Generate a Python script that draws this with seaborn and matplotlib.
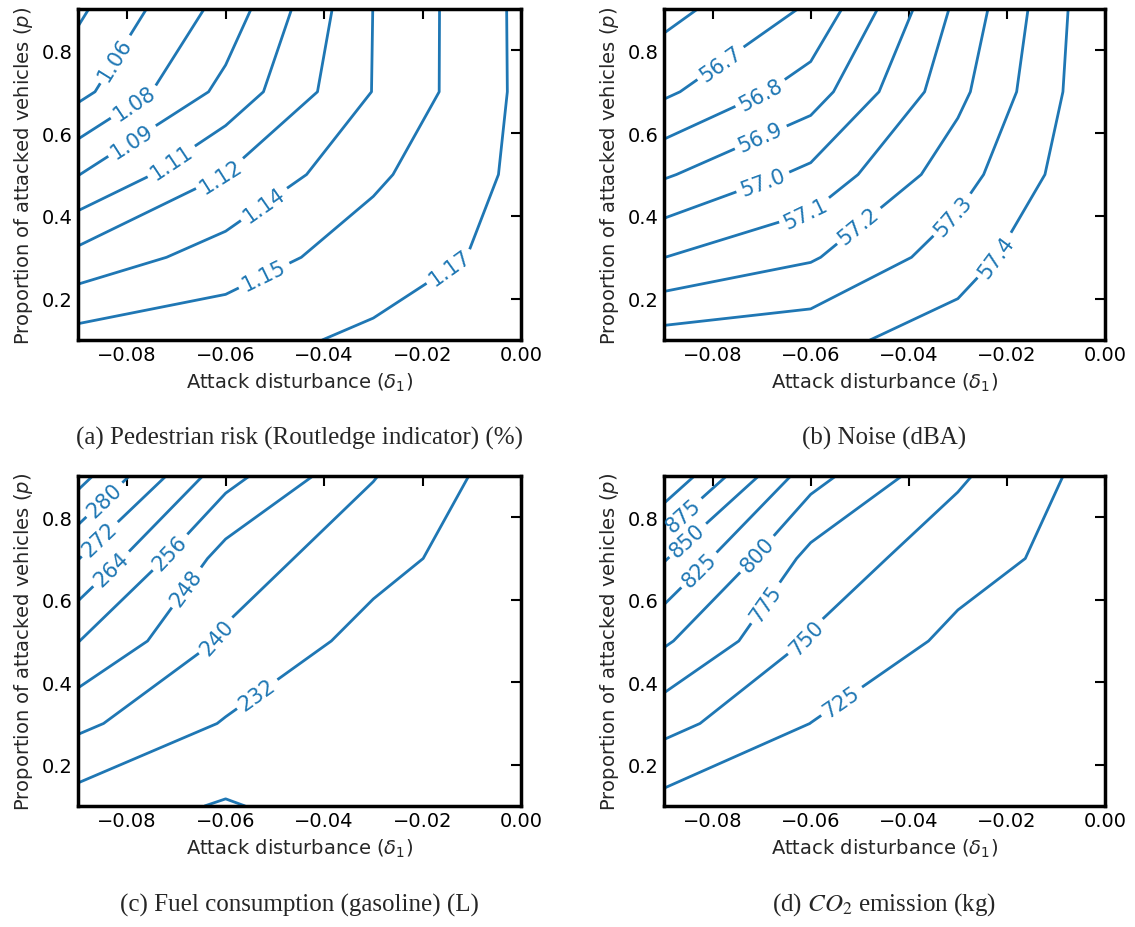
import matplotlib
matplotlib.use("Agg")
import matplotlib.pyplot as plt
import seaborn as sns

# Grid of the sweep: attack disturbance (columns) x proportion of attacked vehicles (rows)
delta1 = [-0.09, -0.06, -0.03, 0.0]
proportion = [0.1, 0.3, 0.5, 0.7, 0.9]

# Pedestrian risk, Routledge indicator (%)
pedestrian_risk = [
    [1.1567, 1.1606, 1.1681, 1.1730],
    [1.1253, 1.1423, 1.1583, 1.1697],
    [1.0901, 1.1207, 1.1477, 1.1687],
    [1.0560, 1.0950, 1.1360, 1.1685],
    [1.0427, 1.0811, 1.1357, 1.1687],
]
risk_levels = [1.0455, 1.0605, 1.0755, 1.0905, 1.1055, 1.1205, 1.1355, 1.1505, 1.1655]

# Noise (dBA)
noise = [
    [57.343, 57.367, 57.449, 57.560],
    [57.099, 57.189, 57.351, 57.537],
    [56.888, 57.025, 57.258, 57.498],
    [56.681, 56.850, 57.173, 57.491],
    [56.566, 56.713, 57.125, 57.492],
]
noise_levels = [56.6, 56.7, 56.8, 56.9, 57.0, 57.1, 57.2, 57.3, 57.4]

# Fuel consumption, gasoline (L)
fuel = [
    [228.2, 223.3, 228.6, 226.4],
    [241.8, 231.4, 228.0, 225.6],
    [256.2, 238.8, 229.3, 225.6],
    [272.3, 244.6, 234.6, 226.9],
    [291.2, 259.0, 240.4, 227.4],
]
fuel_levels = [224, 232, 240, 248, 256, 264, 272, 280, 288]

# CO2 emission (kg)
co2 = [
    [716.0, 700.0, 680.0, 670.0],
    [758.3, 724.8, 695.0, 685.0],
    [803.8, 747.5, 719.4, 707.5],
    [852.5, 766.8, 734.3, 714.0],
    [924.0, 809.5, 753.8, 713.5],
]
co2_levels = [725, 750, 775, 800, 825, 850, 875, 900]

# Where the inline contour labels sit (delta1, p); each snaps to its nearest line
risk_label_spots = [(-0.0821, 0.776), (-0.0788, 0.678), (-0.0788, 0.577), (-0.0713, 0.536),
                    (-0.0612, 0.504), (-0.0524, 0.431), (-0.0524, 0.261), (-0.0141, 0.269)]
noise_label_spots = [(-0.0781, 0.764), (-0.0700, 0.690), (-0.0700, 0.585), (-0.0697, 0.480),
                     (-0.0608, 0.400), (-0.0506, 0.382), (-0.0309, 0.400), (-0.0204, 0.289)]
fuel_label_spots = [(-0.0839, 0.833), (-0.0856, 0.747), (-0.0832, 0.674), (-0.0713, 0.715),
                    (-0.0680, 0.630), (-0.0615, 0.508), (-0.0540, 0.378)]
co2_label_spots = [(-0.0856, 0.800), (-0.0850, 0.743), (-0.0826, 0.670), (-0.0710, 0.711),
                   (-0.0693, 0.593), (-0.0608, 0.508), (-0.0537, 0.354)]

captions = [
    "(a) Pedestrian risk (Routledge indicator) (%)",
    "(b) Noise (dBA)",
    "(c) Fuel consumption (gasoline) (L)",
    r"(d) $CO_2$ emission (kg)",
]
x_ticks = [-0.08, -0.06, -0.04, -0.02, 0.00]
y_ticks = [0.2, 0.4, 0.6, 0.8]

sns.set_theme(style="white")
plt.rcParams["font.family"] = ["DejaVu Sans"]
plt.rcParams["mathtext.fontset"] = "dejavusans"
plt.rcParams["axes.unicode_minus"] = True
line_color = sns.color_palette("tab10")[0]

fig = plt.figure(figsize=(11.35, 9.28), dpi=100)
fig.patch.set_facecolor("white")

panels = [
    (pedestrian_risk, risk_levels, "%.2f", risk_label_spots,
     [0.0687, 0.6325, 0.3903, 0.3567], (0.2639, 0.528)),
    (noise, noise_levels, "%.1f", noise_label_spots,
     [0.5846, 0.6325, 0.3890, 0.3567], (0.7790, 0.528)),
    (fuel, fuel_levels, "%.0f", fuel_label_spots,
     [0.0687, 0.1304, 0.3903, 0.3556], (0.2639, 0.0248)),
    (co2, co2_levels, "%.0f", co2_label_spots,
     [0.5846, 0.1304, 0.3890, 0.3556], (0.7790, 0.0248)),
]

for (values, levels, fmt, spots, rect, cap_xy), caption in zip(panels, captions):
    ax = fig.add_axes(rect)
    cs = ax.contour(delta1, proportion, values, levels=levels,
                    colors=[line_color], linewidths=2.0)
    ax.clabel(cs, inline=True, fontsize=15, fmt=fmt, manual=spots)
    ax.set_xlim(-0.09, 0.0)
    ax.set_ylim(0.1, 0.9)
    ax.set_xticks(x_ticks)
    ax.set_yticks(y_ticks)
    ax.tick_params(direction="in", top=True, right=True, length=7, width=1.5,
                   labelsize=14, colors="black")
    for side in ax.spines.values():
        side.set_visible(True)
        side.set_color("black")
        side.set_linewidth(2.5)
    ax.set_xlabel(r"Attack disturbance ($\delta_1$)", fontsize=14, labelpad=5)
    ax.set_ylabel(r"Proportion of attacked vehicles ($p$)", fontsize=14, labelpad=5)
    fig.text(cap_xy[0], cap_xy[1], caption, ha="center", va="center",
             family="Liberation Serif", fontsize=18, math_fontfamily="stix")

fig.savefig("out.png", dpi=100, facecolor="white")
